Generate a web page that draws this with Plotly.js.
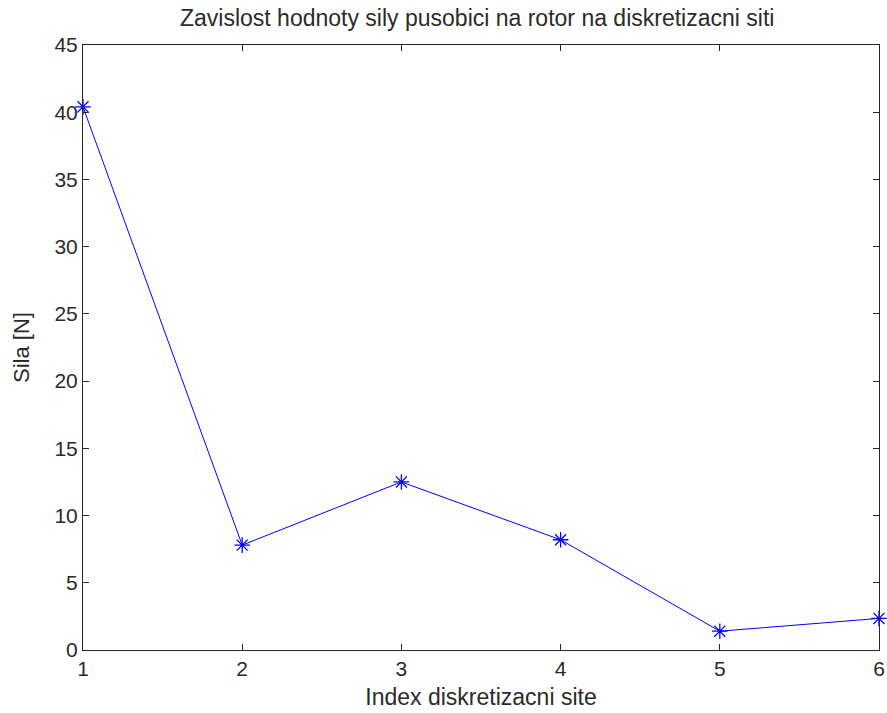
<!DOCTYPE html>
<html><head><meta charset="utf-8">
<script src="https://cdn.plot.ly/plotly-3.0.1.min.js"></script>
<style>html,body{margin:0;padding:0;background:#fff}</style>
</head><body><div id="chart" style="width:887px;height:713px"></div>
<script>
const xIndex = [1, 2, 3, 4, 5, 6];
const sila = [40.4, 7.8, 12.5, 8.2, 1.4, 2.35];
const xTicks = [1, 2, 3, 4, 5, 6];
const yTicks = [0, 5, 10, 15, 20, 25, 30, 35, 40, 45];

const fam = 'Liberation Sans, Arial, sans-serif';
const txt = '#2b2b2b';
const axisCommon = {
  showgrid: false, zeroline: false, showline: true, linecolor: '#262626', linewidth: 1,
  mirror: 'ticks', ticks: 'inside', ticklen: 6, tickcolor: '#262626', tickwidth: 1,
  tickfont: {family: fam, size: 21, color: txt}
};
Plotly.newPlot('chart', [{
  x: xIndex, y: sila, type: 'scatter', mode: 'lines+markers',
  line: {color: '#0000ff', width: 1},
  marker: {symbol: 'asterisk-open', size: 13, color: '#0000ff', line: {color: '#0000ff', width: 1.3}},
  cliponaxis: false
}], {
  width: 887, height: 713,
  margin: {l: 83, r: 8, t: 45, b: 63},
  paper_bgcolor: '#fff', plot_bgcolor: '#fff',
  font: {family: fam, size: 22, color: txt},
  showlegend: false,
  title: {text: 'Zavislost hodnoty sily pusobici na rotor na diskretizacni siti', x: 0.538, xanchor: 'center', y: 0.975, yanchor: 'middle', font: {family: fam, size: 23, color: txt}},
  xaxis: Object.assign({}, axisCommon, {range: [1, 6], tickvals: xTicks, ticktext: xTicks.map(String),
    title: {text: 'Index diskretizacni site', font: {family: fam, size: 23, color: txt}, standoff: 9}}),
  yaxis: Object.assign({}, axisCommon, {range: [0, 45], tickvals: yTicks, ticktext: yTicks.map(String),
    title: {text: 'Sila [N]', font: {family: fam, size: 22, color: txt}, standoff: 18}})
}, {displayModeBar: false, staticPlot: true});
</script></body></html>
